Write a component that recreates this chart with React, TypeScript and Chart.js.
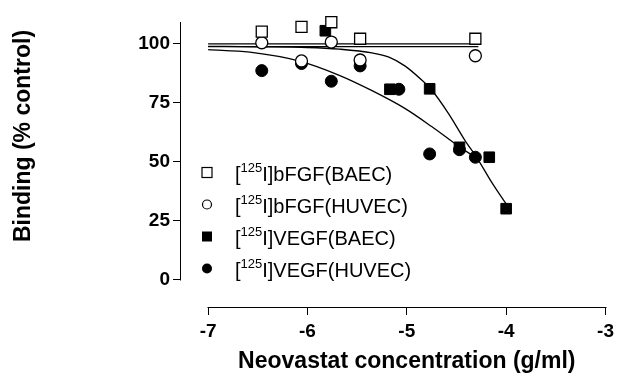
import React, { useEffect, useRef } from 'react';
import { Chart, registerables } from 'chart.js';

Chart.register(...registerables);

const FONT = '"Liberation Sans", Arial, Helvetica, sans-serif';

// Axis ticks
const xTicks = [-7, -6, -5, -4, -3];
const yTicks = [0, 25, 50, 75, 100];
const xTitle = 'Neovastat concentration (g/ml)';
const yTitle = 'Binding (% control)';

// Legend text parts: "[" + superscript isotope + "I]" + name
const isotope = '125';
const seriesNames = ['bFGF(BAEC)', 'bFGF(HUVEC)', 'VEGF(BAEC)', 'VEGF(HUVEC)'];

// Measured points
const bfgfBaecX = [-6.46, -6.06, -5.76, -5.47, -4.31];
const bfgfBaecY = [105, 107, 109, 102, 102];
const bfgfHuvecX = [-6.46, -6.06, -5.76, -5.47, -4.31];
const bfgfHuvecY = [100.3, 92.6, 100.6, 93, 94.8];
const vegfBaecX = [-5.82, -5.17, -4.77, -4.47, -4.17, -4.0];
const vegfBaecY = [105.4, 80.6, 80.8, 56, 51.8, 30];
const vegfHuvecX = [-6.46, -6.06, -5.76, -5.47, -5.08, -4.77, -4.47, -4.31];
const vegfHuvecY = [88.5, 91.5, 84, 90.5, 80.6, 53.2, 55, 51.8];

// Fitted curves
const fitBfgfBaecX = [-7, -4.28];
const fitBfgfBaecY = [99.8, 99.8];
const fitBfgfHuvecX = [-7, -4.28];
const fitBfgfHuvecY = [98.7, 98.7];
const fitVegfBaecX = [-7, -6.5, -6.0, -5.68, -5.35, -5.18, -5.02, -4.85, -4.75, -4.58, -4.42, -4.28, -4.15, -4.0];
const fitVegfBaecY = [98.8, 98.6, 98.3, 97.6, 96, 94.2, 90.5, 84.5, 80.3, 70.3, 59.3, 50.6, 41.5, 32];
const fitVegfHuvecX = [-7, -6.58, -6.08, -5.68, -5.35, -5.02, -4.75, -4.48, -4.31];
const fitVegfHuvecY = [97.4, 96.3, 92.5, 86.5, 80, 72.5, 64.8, 56.5, 51.8];

const zip = (xs: number[], ys: number[]) => xs.map((x, i) => ({ x, y: ys[i] }));

const axisPlugin = {
  id: 'offsetAxes',
  beforeDatasetsDraw(chart: any) {
    const { ctx, chartArea, scales } = chart;
    const xs = scales.x;
    const ys = scales.y;
    ctx.save();
    ctx.strokeStyle = '#000';
    ctx.lineWidth = 1;
    // y axis line from 0 to top
    const yx = Math.round(chartArea.left) - 0.5;
    ctx.beginPath();
    ctx.moveTo(yx, Math.round(ys.getPixelForValue(yTicks[0])) + 0.5);
    ctx.lineTo(yx, chartArea.top);
    ctx.stroke();
    // x axis line from -7 to -3
    const xy = Math.round(chartArea.bottom) + 0.5;
    ctx.beginPath();
    ctx.moveTo(Math.round(xs.getPixelForValue(xTicks[0])) - 0.5, xy);
    ctx.lineTo(Math.round(xs.getPixelForValue(xTicks[xTicks.length - 1])) + 0.5, xy);
    ctx.stroke();
    ctx.restore();
  },
  afterDraw(chart: any) {
    const { ctx, scales } = chart;
    const xs = scales.x;
    ctx.save();
    ctx.fillStyle = '#000';
    ctx.font = `bold 23px ${FONT}`;
    ctx.textAlign = 'center';
    ctx.textBaseline = 'middle';
    ctx.fillText(xTitle, xs.getPixelForValue((xTicks[0] + xTicks[xTicks.length - 1]) / 2), 362);
    ctx.translate(24, 136);
    ctx.rotate(-Math.PI / 2);
    ctx.fillText(yTitle, 0, 0);
    ctx.restore();
  },
};

const legendPlugin = {
  id: 'figLegend',
  afterDraw(chart: any) {
    const { ctx } = chart;
    ctx.save();
    seriesNames.forEach((name, i) => {
      const ty = 175 + i * 32;
      const my = ty - 2.5;
      const mx = 207;
      ctx.lineWidth = 1.2;
      ctx.strokeStyle = '#000';
      ctx.fillStyle = '#000';
      if (i === 0) {
        ctx.strokeRect(mx - 5, my - 5, 10, 10);
      } else if (i === 1) {
        ctx.beginPath();
        ctx.arc(mx, my, 4.5, 0, Math.PI * 2);
        ctx.stroke();
      } else if (i === 2) {
        ctx.fillRect(mx - 5, my - 5, 10, 10);
      } else {
        ctx.beginPath();
        ctx.arc(mx, my, 5, 0, Math.PI * 2);
        ctx.fill();
      }
      ctx.textBaseline = 'middle';
      ctx.textAlign = 'left';
      let x = 235;
      ctx.font = `20px ${FONT}`;
      ctx.fillText('[', x, ty);
      x += ctx.measureText('[').width;
      ctx.font = `13px ${FONT}`;
      ctx.fillText(isotope, x, ty - 7);
      x += ctx.measureText(isotope).width;
      ctx.font = `20px ${FONT}`;
      ctx.fillText('I]' + name, x, ty);
    });
    ctx.restore();
  },
};

export default function App() {
  const ref = useRef<HTMLCanvasElement | null>(null);
  useEffect(() => {
    if (!ref.current) return;
    const openStyle = {
      showLine: false,
      clip: false,
      pointBackgroundColor: '#fff',
      pointBorderColor: '#000',
      pointBorderWidth: 1.3,
    };
    const filledStyle = {
      showLine: false,
      clip: false,
      pointBackgroundColor: '#000',
      pointBorderColor: '#000',
      pointBorderWidth: 1,
    };
    const lineStyle = {
      showLine: true,
      clip: false,
      pointRadius: 0,
      borderColor: '#000',
      borderWidth: 1.3,
      cubicInterpolationMode: 'monotone' as const,
      order: 10,
    };
    const chart = new Chart(ref.current, {
      type: 'scatter',
      data: {
        datasets: [
          { label: 'fit bFGF(BAEC)', data: zip(fitBfgfBaecX, fitBfgfBaecY), ...lineStyle },
          { label: 'fit bFGF(HUVEC)', data: zip(fitBfgfHuvecX, fitBfgfHuvecY), ...lineStyle },
          { label: 'fit VEGF(BAEC)', data: zip(fitVegfBaecX, fitVegfBaecY), ...lineStyle },
          { label: 'fit VEGF(HUVEC)', data: zip(fitVegfHuvecX, fitVegfHuvecY), ...lineStyle },
          { label: '[¹²⁵I]VEGF(HUVEC)', data: zip(vegfHuvecX, vegfHuvecY), ...filledStyle, pointStyle: 'circle', pointRadius: 6, order: 6 },
          { label: '[¹²⁵I]VEGF(BAEC)', data: zip(vegfBaecX, vegfBaecY), ...filledStyle, pointStyle: 'rect', pointRadius: 7.5, order: 5 },
          { label: '[¹²⁵I]bFGF(HUVEC)', data: zip(bfgfHuvecX, bfgfHuvecY), ...openStyle, pointStyle: 'circle', pointRadius: 6, order: 2 },
          { label: '[¹²⁵I]bFGF(BAEC)', data: zip(bfgfBaecX, bfgfBaecY), ...openStyle, pointStyle: 'rect', pointRadius: 7.8, order: 1 },
        ],
      },
      options: {
        responsive: false,
        animation: false,
        events: [],
        layout: { padding: { left: 0, top: 22, right: 9, bottom: 0 } },
        plugins: { legend: { display: false }, tooltip: { enabled: false }, title: { display: false } },
        scales: {
          x: {
            type: 'linear',
            min: -7.273,
            max: -2.977,
            afterBuildTicks: (s: any) => { s.ticks = xTicks.map((v) => ({ value: v })); },
            afterFit: (s: any) => { s.height = 70; },
            grid: { drawOnChartArea: false, drawTicks: true, tickLength: 8, color: '#000', lineWidth: 1 },
            border: { display: false },
            ticks: {
              color: '#000',
              padding: 5,
              maxRotation: 0,
              autoSkip: false,
              font: { family: FONT, size: 19, weight: 'bold' },
              callback: (v: any) => String(v),
            },
          },
          y: {
            type: 'linear',
            min: -11.65,
            max: 109.1,
            afterBuildTicks: (s: any) => { s.ticks = yTicks.map((v) => ({ value: v })); },
            afterFit: (s: any) => { s.width = 181; },
            grid: { drawOnChartArea: false, drawTicks: true, tickLength: 8, color: '#000', lineWidth: 1 },
            border: { display: false },
            ticks: {
              color: '#000',
              padding: 3,
              autoSkip: false,
              font: { family: FONT, size: 19, weight: 'bold' },
              callback: (v: any) => String(v),
            },
          },
        },
      },
      plugins: [axisPlugin, legendPlugin],
    });
    return () => chart.destroy();
  }, []);
  return (
    <div style={{ position: 'absolute', left: 0, top: 0, width: 619, height: 377, background: '#fff' }}>
      <canvas ref={ref} width={619} height={377} style={{ display: 'block', width: 619, height: 377 }} />
    </div>
  );
}
